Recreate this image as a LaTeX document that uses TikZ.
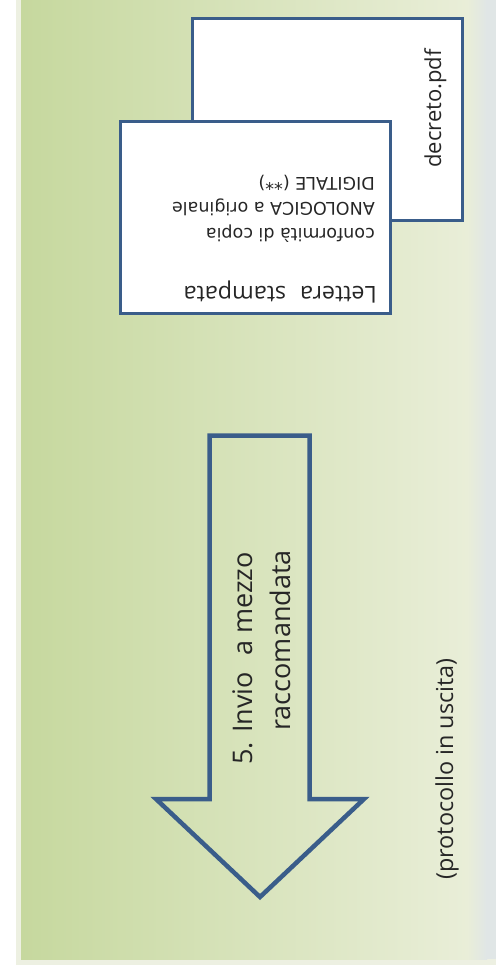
\documentclass[tikz,border=0pt]{standalone}
\usepackage{fontspec}
\setmainfont{Open Sans}
\newfontfamily\notefont{DejaVu Sans}
\usetikzlibrary{calc,positioning}
\definecolor{bgleft}{RGB}{198,216,158}
\definecolor{bgcream}{RGB}{233,238,216}
\definecolor{bggray}{RGB}{224,230,230}
\definecolor{framecream}{RGB}{237,240,226}
\definecolor{docblue}{RGB}{58,93,138}
\definecolor{inkgray}{RGB}{38,38,38}

\begin{document}
\begin{tikzpicture}[x=1pt,y=-1pt,
    doc/.style={draw=docblue,line width=3pt,fill=white},
    txt/.style={inner sep=0pt,text=inkgray,font=\fontsize{#1}{#1}\selectfont},
    note/.style={inner sep=0pt,text=inkgray,font={\notefont\fontsize{17.5}{20}\selectfont}},
  ]
  \useasboundingbox (0,0) rectangle (496,972);
  % background panel
  \fill[framecream] (16,0) rectangle (496,965);
  \shade[left color=bgleft,right color=bgcream] (21,0) rectangle (468,959);
  \shade[left color=bgcream,right color=bggray] (467,0) rectangle (487,959);
  \fill[bggray] (486,0) rectangle (496,959);

  % the two documents
  \draw[doc] (192,18.5) rectangle (462.5,220);
  \draw[doc] (120,121.5) rectangle (390.5,313.5);
  \node[txt=22,rotate=90,anchor=base west] (decreto) at (441,168) {decreto.pdf};
  \node[txt=23.3,rotate=180,anchor=base west] (lettera) at (377,286) {Lettera\hspace{0.6em}stampata};
  \foreach \notetext/\ypos [count=\i] in {{conformità di copia}/228,{ANOLOGICA a originale}/202.5,{DIGITALE (**)}/177}
    \node[note,rotate=180,anchor=base west] (nota\i) at (375,\ypos) {\notetext};

  % big arrow
  \draw[docblue,line width=4.5pt] (209.5,435.5) -- (309.5,435.5) -- (309.5,799)
    -- (364,799) -- (260,897) -- (156,799) -- (209.5,799) -- cycle;
  \node[txt=27,rotate=90,anchor=base east] (invio) at (252,552) {5. Invio\hspace{0.6em}a mezzo};
  \node[txt=27,rotate=90,anchor=base east] (racc) at (290,550) {raccomandata};

  \node[txt=23.4,rotate=90,anchor=base] (protocollo) at (453,769) {(protocollo in uscita)};
\end{tikzpicture}
\end{document}
